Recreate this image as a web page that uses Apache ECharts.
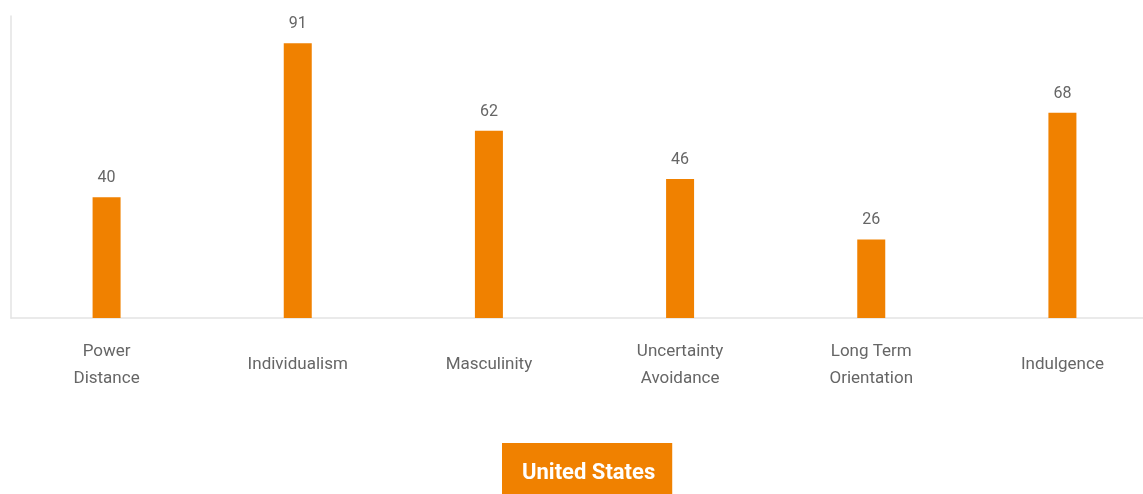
<!DOCTYPE html>
<html>
<head>
<meta charset="utf-8">
<script src="https://cdn.jsdelivr.net/npm/echarts@6/dist/echarts.min.js"></script>
<style>
html,body{margin:0;padding:0;background:#fff;}
#chart{width:1143px;height:494px;}
</style>
</head>
<body>
<div id="chart"></div>
<script>
const categories = ['Power\nDistance', 'Individualism', 'Masculinity', 'Uncertainty\nAvoidance', 'Long Term\nOrientation', 'Indulgence'];
const seriesName = 'United States';
const values = [40, 91, 62, 46, 26, 68];

const chart = echarts.init(document.getElementById('chart'));
chart.setOption({
  animation: false,
  textStyle: { fontFamily: 'Roboto' },
  grid: { left: 11, width: 1147, top: 16, height: 302, containLabel: false, outerBoundsMode: 'none' },
  legend: {
    show: true,
    data: [seriesName],
    top: 443,
    left: 502,
    icon: 'none',
    itemWidth: 0,
    itemHeight: 0,
    itemGap: 0,
    backgroundColor: '#F08100',
    borderRadius: 0,
    padding: [19, 17, 16, 15],
    textStyle: { color: '#fff', fontSize: 22, fontWeight: 'bold', fontFamily: 'Roboto' }
  },
  xAxis: {
    type: 'category',
    data: categories,
    axisLine: { show: true, lineStyle: { color: '#e3e3e3', width: 1.5 } },
    axisTick: { show: false },
    axisLabel: { color: '#666', fontSize: 17, lineHeight: 27, margin: 47, verticalAlign: 'middle' }
  },
  yAxis: {
    type: 'value',
    min: 0,
    max: 100,
    axisLine: { show: true, lineStyle: { color: '#e3e3e3', width: 1.5 } },
    axisTick: { show: false },
    axisLabel: { show: false },
    splitLine: { show: false }
  },
  series: [{
    name: seriesName,
    type: 'bar',
    data: values,
    barWidth: 28,
    itemStyle: { color: '#F08100' },
    label: { show: true, position: 'top', distance: 11, color: '#666', fontSize: 16 }
  }]
});
</script>
</body>
</html>
